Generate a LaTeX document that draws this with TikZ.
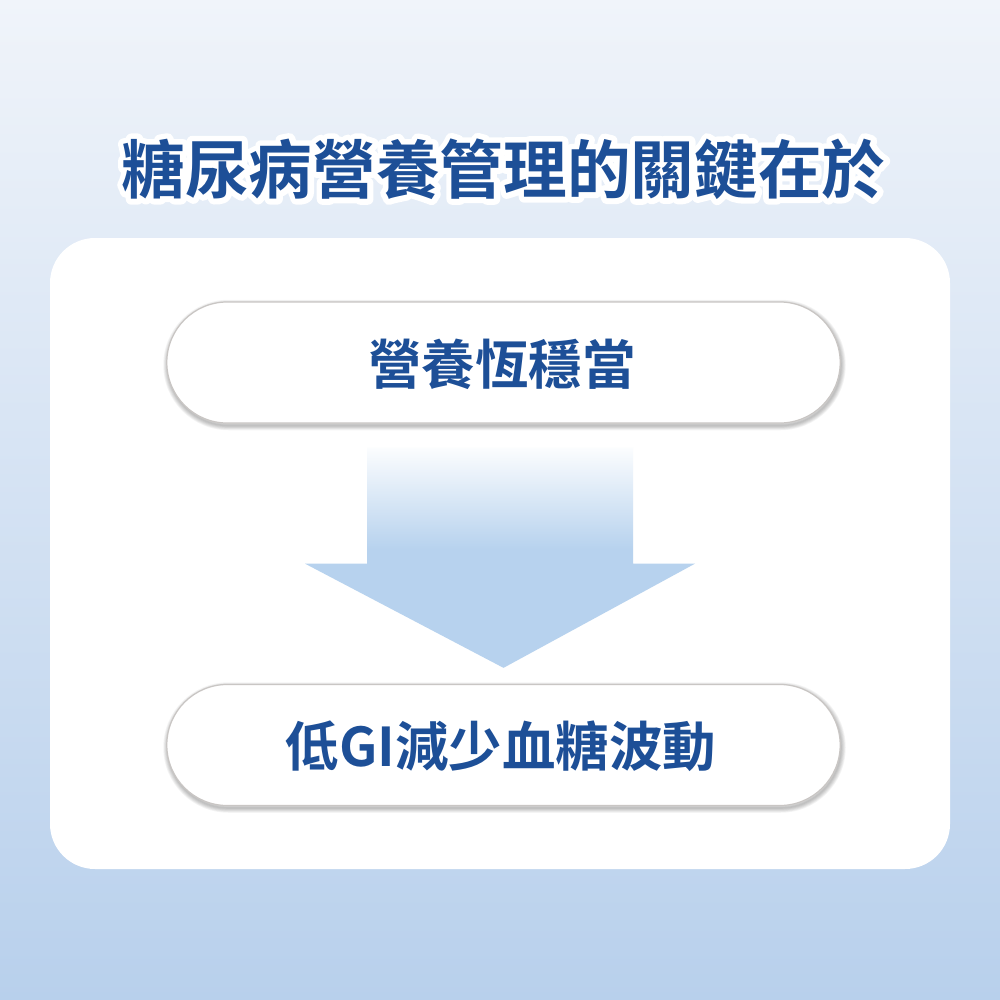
\documentclass[tikz,border=0pt]{standalone}
\usepackage{fontspec}
\newfontfamily\cjkb{Noto Sans CJK TC Bold}
\newfontfamily\cjkhalo{Noto Sans CJK TC Bold}[FakeBold=18]
\usetikzlibrary{calc}
\definecolor{txtblue}{HTML}{1D4F97}
\definecolor{bgtop}{HTML}{F0F4FA}
\definecolor{bgbot}{HTML}{B8D0EC}
\definecolor{arrblue}{HTML}{B7D2EE}
\definecolor{pillline}{HTML}{C9C6C4}
\pgfdeclareverticalshading{arrowshade}{100bp}{color(0bp)=(arrblue); color(25bp)=(arrblue); color(52bp)=(arrblue); color(75bp)=(white!95!arrblue); color(100bp)=(white)}
\tikzset{
  pillbox/.style={rectangle, rounded corners=0.605cm, minimum width=6.73cm, minimum height=1.21cm, inner sep=0pt, fill=white, draw=pillline, line width=0.35pt},
  pilltext/.style={font=\cjkb\fontsize{15.2pt}{16pt}\selectfont, text=txtblue},
  titletext/.style={font=\cjkb\fontsize{18.1pt}{19pt}\selectfont},
  halotext/.style={font=\cjkhalo\fontsize{18.1pt}{19pt}\selectfont, text=white, line join=round, line cap=round},
}
\newcommand{\titlestr}{糖尿病營養管理的關鍵在於}
\begin{document}
\begin{tikzpicture}[x=0.01cm,y=-0.01cm]
\useasboundingbox (0,0) rectangle (1000,1000);
% background
\shade[top color=bgtop, bottom color=bgbot] (0,0) rectangle (1000,1000);
% panel
\fill[white, rounded corners=0.45cm] (50,238) rectangle (950,869);
% title with white outline
\begin{scope}[line join=round, line cap=round]
\node[halotext] (halo) at (503.5,169) {\pgfsetroundjoin\titlestr};
\end{scope}
\node[titletext, text=txtblue] (title) at (503.5,169) {\titlestr};
% pill shadows
\foreach \cy in {362.5,745}{
  \foreach \w in {1,...,6}{
    \draw[black, opacity=0.045, line width=\w*0.45pt, rounded corners=0.605cm]
      ($(167,\cy-60.5)+(1,2.5)$) rectangle ($(840,\cy+60.5)+(1,2.5)$);
  }
}
% pills
\node[pillbox] (p1) at (503.5,362.5) {};
\node[pilltext] (t1) at (502,364) {營養恆穩當};
\node[pillbox] (p2) at (503.5,745) {};
\node[pilltext] (t2) at (501,746) {低GI減少血糖波動};
% big arrow from p1 to p2
\coordinate (atop) at ($(p1.south)+(0,24)$);
\coordinate (atip) at ($(p2.north)+(0,-16)$);
\shade[shading=arrowshade]
  ($(atop)+(-136.5,0)$) -- ($(atop)+(129.5,0)$) -- ($(atop)+(129.5,116)$) --
  ($(atop)+(191.5,116)$) -- (atip) -- ($(atop)+(-198.5,116)$) --
  ($(atop)+(-136.5,116)$) -- cycle;
\end{tikzpicture}
\end{document}
